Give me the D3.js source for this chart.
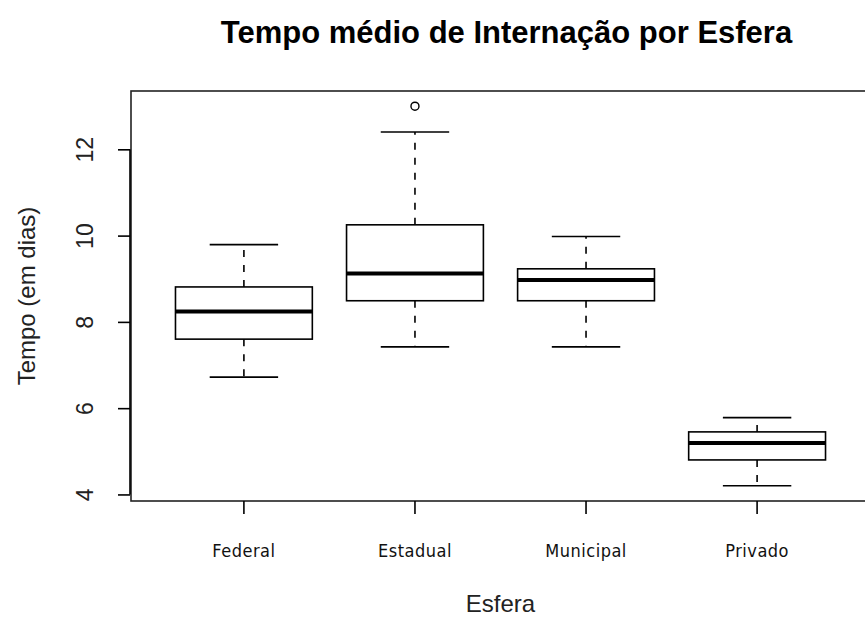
<!DOCTYPE html>
<html>
<head>
<meta charset="utf-8">
<script src="https://d3js.org/d3.v7.min.js"></script>
<style>
  body { margin: 0; background: #fff; }
</style>
</head>
<body>
<div id="chart-area"></div>
<script>
// data
var categories = ["Federal", "Estadual", "Municipal", "Privado"];
var whiskerLow = [6.72, 7.42, 7.42, 4.20];
var q1 = [7.60, 8.49, 8.49, 4.80];
var median = [8.24, 9.12, 8.97, 5.19];
var q3 = [8.81, 10.25, 9.23, 5.45];
var whiskerHigh = [9.79, 12.40, 9.98, 5.78];
var outliers = [[], [13.0], [], []];
var yTicks = [4, 6, 8, 10, 12];

var outerWidth = 865;
var outerHeight = 619;

var plot = { left: 131, right: 870, top: 91, bottom: 501 };

var svg = d3.select("#chart-area")
  .append("svg")
  .attr("width", outerWidth)
  .attr("height", outerHeight);

var boxes = categories.map(function(c, i) {
  return {
    name: c,
    lo: whiskerLow[i],
    q1: q1[i],
    med: median[i],
    q3: q3[i],
    hi: whiskerHigh[i],
    out: outliers[i]
  };
});

// x scale, R style spacing
var x = d3.scaleBand()
  .domain(categories)
  .range([plot.left, plot.right])
  .paddingInner(0.2)
  .paddingOuter(0.26);

// y scale with 4% padding like R
var allVals = whiskerLow.concat(whiskerHigh, d3.merge(outliers));
var yMin = d3.min(allVals), yMax = d3.max(allVals);
var pad = (yMax - yMin) * 0.04;
var y = d3.scaleLinear()
  .domain([yMin - pad, yMax + pad])
  .range([plot.bottom, plot.top]);

var g = svg.append("g");

var box = g.selectAll("g.box")
  .data(boxes)
  .enter()
  .append("g")
  .attr("class", "box");

var bw = x.bandwidth();
function cx(d) { return x(d.name) + bw / 2; }

// whiskers (dashed)
box.append("line")
  .attr("x1", cx).attr("x2", cx)
  .attr("y1", function(d) { return y(d.q3); })
  .attr("y2", function(d) { return y(d.hi); })
  .attr("stroke", "#000")
  .attr("stroke-width", 1.6)
  .attr("stroke-dasharray", "7,8");

box.append("line")
  .attr("x1", cx).attr("x2", cx)
  .attr("y1", function(d) { return y(d.q1); })
  .attr("y2", function(d) { return y(d.lo); })
  .attr("stroke", "#000")
  .attr("stroke-width", 1.6)
  .attr("stroke-dasharray", "7,8");

// staples
["hi", "lo"].forEach(function(k) {
  box.append("line")
    .attr("x1", function(d) { return cx(d) - bw / 4; })
    .attr("x2", function(d) { return cx(d) + bw / 4; })
    .attr("y1", function(d) { return y(d[k]); })
    .attr("y2", function(d) { return y(d[k]); })
    .attr("stroke", "#000")
    .attr("stroke-width", 1.6);
});

// box
box.append("rect")
  .attr("x", function(d) { return x(d.name); })
  .attr("y", function(d) { return y(d.q3); })
  .attr("width", bw)
  .attr("height", function(d) { return y(d.q1) - y(d.q3); })
  .attr("fill", "#fff")
  .attr("stroke", "#000")
  .attr("stroke-width", 1.6);

// median
box.append("line")
  .attr("x1", function(d) { return x(d.name); })
  .attr("x2", function(d) { return x(d.name) + bw; })
  .attr("y1", function(d) { return y(d.med); })
  .attr("y2", function(d) { return y(d.med); })
  .attr("stroke", "#000")
  .attr("stroke-width", 4);

// outliers
box.selectAll("circle")
  .data(function(d) { return d.out.map(function(v) { return { name: d.name, v: v }; }); })
  .enter()
  .append("circle")
  .attr("cx", cx)
  .attr("cy", function(d) { return y(d.v); })
  .attr("r", 4)
  .attr("fill", "none")
  .attr("stroke", "#000")
  .attr("stroke-width", 1.4);

// frame
svg.append("rect")
  .attr("x", plot.left)
  .attr("y", plot.top)
  .attr("width", plot.right - plot.left)
  .attr("height", plot.bottom - plot.top)
  .attr("fill", "none")
  .attr("stroke", "#222")
  .attr("stroke-width", 1.6);

// left axis
var yAxis = d3.axisLeft(y)
  .tickValues(yTicks)
  .tickSize(12)
  .tickSizeOuter(0);

var yg = svg.append("g")
  .attr("transform", "translate(" + (plot.left - 1) + ",0)")
  .call(yAxis);

yg.select(".domain").remove();
yg.selectAll("line").attr("stroke", "#000").attr("stroke-width", 1.6);
yg.selectAll("text")
  .attr("transform", "rotate(-90)")
  .attr("x", 0)
  .attr("y", -37)
  .attr("dy", 0)
  .attr("text-anchor", "middle")
  .attr("font-family", "'Liberation Sans', Arial, sans-serif")
  .attr("font-size", "23px")
  .attr("fill", "#222");

// axis line between first and last tick
svg.append("line")
  .attr("x1", plot.left - 1).attr("x2", plot.left - 1)
  .attr("y1", y(yTicks[0]))
  .attr("y2", y(yTicks[yTicks.length - 1]))
  .attr("stroke", "#000")
  .attr("stroke-width", 1.6);

// bottom axis
var xAxis = d3.axisBottom(x)
  .tickSize(13)
  .tickSizeOuter(0);

var xg = svg.append("g")
  .attr("transform", "translate(0," + plot.bottom + ")")
  .call(xAxis);

xg.select(".domain").remove();
xg.selectAll("line").attr("stroke", "#000").attr("stroke-width", 1.6);
xg.selectAll("text")
  .attr("y", 56)
  .attr("dy", 0)
  .attr("font-family", "'DejaVu Sans Condensed', 'DejaVu Sans', sans-serif")
  .attr("font-stretch", "condensed")
  .attr("font-size", "18px")
  .attr("letter-spacing", "0.5px")
  .attr("fill", "#111");

// title
svg.append("text")
  .attr("x", (plot.left + plot.right) / 2 + 6)
  .attr("y", 43)
  .attr("text-anchor", "middle")
  .attr("font-family", "'Liberation Sans', Arial, sans-serif")
  .attr("font-weight", "bold")
  .attr("font-size", "31px")
  .attr("fill", "#000")
  .text("Tempo médio de Internação por Esfera");

// x label
svg.append("text")
  .attr("x", (plot.left + plot.right) / 2)
  .attr("y", 612)
  .attr("text-anchor", "middle")
  .attr("font-family", "'Liberation Sans', Arial, sans-serif")
  .attr("font-size", "24px")
  .attr("fill", "#222")
  .text("Esfera");

// y label
svg.append("text")
  .attr("transform", "rotate(-90)")
  .attr("x", -(plot.top + plot.bottom) / 2)
  .attr("y", 35)
  .attr("text-anchor", "middle")
  .attr("font-family", "'Liberation Sans', Arial, sans-serif")
  .attr("font-size", "24px")
  .attr("fill", "#222")
  .text("Tempo (em dias)");
</script>
</body>
</html>
